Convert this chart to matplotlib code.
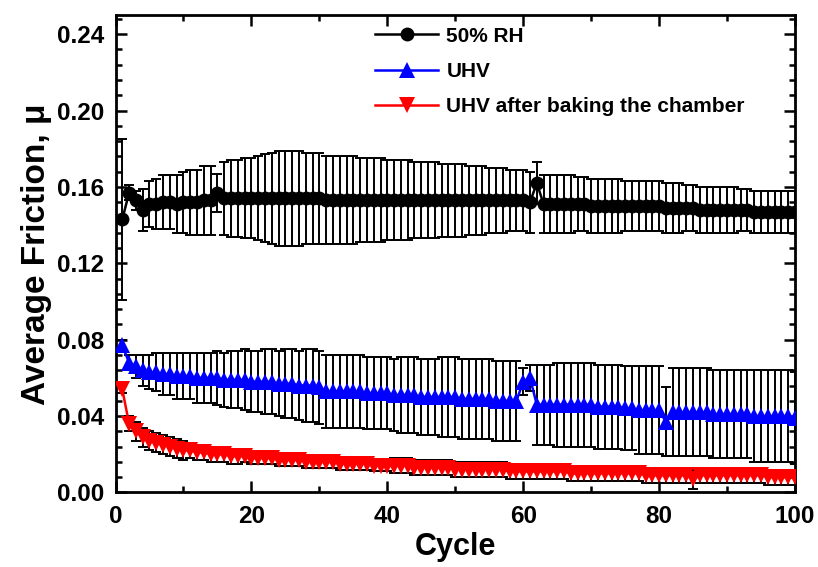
import numpy as np
import matplotlib
matplotlib.use("Agg")
import matplotlib.pyplot as plt
from matplotlib.ticker import MultipleLocator

plt.rcParams["font.family"] = ["Liberation Sans", "DejaVu Sans"]
plt.rcParams["font.weight"] = "bold"

# ─────────────────────────────────────────────
# DATA
# ─────────────────────────────────────────────
cycle = np.arange(1, 101)

rh50_mean = [
    0.143, 0.157, 0.153, 0.148, 0.151, 0.151, 0.152, 0.152, 0.151, 0.152,
    0.152, 0.152, 0.153, 0.153, 0.157, 0.154, 0.154, 0.154, 0.154, 0.154,
    0.154, 0.154, 0.154, 0.154, 0.154, 0.154, 0.154, 0.154, 0.154, 0.154,
    0.153, 0.153, 0.153, 0.153, 0.153, 0.153, 0.153, 0.153, 0.153, 0.153,
    0.153, 0.153, 0.153, 0.153, 0.153, 0.153, 0.153, 0.153, 0.153, 0.153,
    0.153, 0.153, 0.153, 0.153, 0.153, 0.153, 0.153, 0.153, 0.153, 0.153,
    0.152, 0.162, 0.151, 0.151, 0.151, 0.151, 0.151, 0.151, 0.151, 0.150,
    0.150, 0.150, 0.150, 0.150, 0.150, 0.150, 0.150, 0.150, 0.150, 0.150,
    0.149, 0.149, 0.149, 0.149, 0.149, 0.148, 0.148, 0.148, 0.148, 0.148,
    0.148, 0.148, 0.148, 0.147, 0.147, 0.147, 0.147, 0.147, 0.147, 0.147,
]
rh50_err = [
    0.042, 0.004, 0.005, 0.011, 0.012, 0.013, 0.014, 0.014, 0.015, 0.016,
    0.017, 0.017, 0.018, 0.018, 0.010, 0.019, 0.020, 0.020, 0.021, 0.021,
    0.022, 0.023, 0.024, 0.025, 0.025, 0.025, 0.025, 0.024, 0.024, 0.024,
    0.023, 0.023, 0.023, 0.023, 0.023, 0.022, 0.022, 0.022, 0.022, 0.021,
    0.021, 0.021, 0.021, 0.020, 0.020, 0.020, 0.020, 0.019, 0.019, 0.019,
    0.019, 0.018, 0.018, 0.018, 0.017, 0.017, 0.017, 0.016, 0.016, 0.016,
    0.016, 0.011, 0.015, 0.015, 0.015, 0.015, 0.015, 0.014, 0.014, 0.014,
    0.014, 0.014, 0.014, 0.014, 0.013, 0.013, 0.013, 0.013, 0.013, 0.013,
    0.013, 0.013, 0.013, 0.012, 0.012, 0.012, 0.012, 0.012, 0.012, 0.012,
    0.012, 0.011, 0.011, 0.011, 0.011, 0.011, 0.011, 0.011, 0.011, 0.011,
]

uhv_mean = [
    0.077, 0.068, 0.066, 0.064, 0.063, 0.063, 0.062, 0.062, 0.061, 0.061,
    0.061, 0.060, 0.060, 0.060, 0.060, 0.059, 0.059, 0.059, 0.059, 0.058,
    0.058, 0.058, 0.058, 0.057, 0.057, 0.057, 0.056, 0.056, 0.056, 0.055,
    0.053, 0.053, 0.053, 0.053, 0.053, 0.053, 0.052, 0.052, 0.052, 0.052,
    0.051, 0.051, 0.051, 0.051, 0.050, 0.050, 0.050, 0.050, 0.050, 0.050,
    0.049, 0.049, 0.049, 0.049, 0.049, 0.048, 0.048, 0.048, 0.048, 0.058,
    0.060, 0.046, 0.046, 0.046, 0.046, 0.046, 0.046, 0.046, 0.046, 0.046,
    0.045, 0.045, 0.045, 0.045, 0.044, 0.044, 0.043, 0.043, 0.043, 0.043,
    0.037, 0.042, 0.042, 0.042, 0.042, 0.042, 0.042, 0.041, 0.041, 0.041,
    0.041, 0.041, 0.041, 0.040, 0.040, 0.040, 0.040, 0.040, 0.040, 0.039,
]
uhv_err = [
    0.003, 0.004, 0.006, 0.008, 0.009, 0.010, 0.011, 0.011, 0.012, 0.012,
    0.012, 0.013, 0.013, 0.013, 0.014, 0.014, 0.015, 0.015, 0.016, 0.016,
    0.016, 0.017, 0.017, 0.017, 0.018, 0.018, 0.018, 0.019, 0.019, 0.019,
    0.019, 0.019, 0.019, 0.019, 0.019, 0.019, 0.019, 0.019, 0.019, 0.019,
    0.019, 0.020, 0.020, 0.020, 0.020, 0.020, 0.020, 0.021, 0.021, 0.021,
    0.021, 0.021, 0.021, 0.021, 0.021, 0.021, 0.021, 0.021, 0.021, 0.007,
    0.007, 0.021, 0.021, 0.021, 0.022, 0.022, 0.022, 0.022, 0.022, 0.022,
    0.022, 0.022, 0.022, 0.022, 0.022, 0.022, 0.023, 0.023, 0.023, 0.023,
    0.018, 0.023, 0.023, 0.023, 0.023, 0.023, 0.023, 0.023, 0.023, 0.023,
    0.023, 0.023, 0.023, 0.024, 0.024, 0.024, 0.024, 0.024, 0.024, 0.024,
]

baked_mean = [
    0.054, 0.036, 0.032, 0.029, 0.027, 0.026, 0.025, 0.024, 0.023, 0.022,
    0.022, 0.021, 0.021, 0.020, 0.020, 0.020, 0.019, 0.019, 0.019, 0.018,
    0.018, 0.018, 0.018, 0.017, 0.017, 0.017, 0.017, 0.016, 0.016, 0.016,
    0.016, 0.016, 0.015, 0.015, 0.015, 0.015, 0.015, 0.014, 0.014, 0.014,
    0.014, 0.014, 0.014, 0.013, 0.013, 0.013, 0.013, 0.013, 0.013, 0.012,
    0.012, 0.012, 0.012, 0.012, 0.012, 0.012, 0.012, 0.011, 0.011, 0.011,
    0.011, 0.011, 0.011, 0.011, 0.011, 0.011, 0.010, 0.010, 0.010, 0.010,
    0.010, 0.010, 0.010, 0.010, 0.010, 0.010, 0.010, 0.009, 0.009, 0.009,
    0.009, 0.009, 0.009, 0.009, 0.007, 0.009, 0.009, 0.009, 0.009, 0.009,
    0.009, 0.009, 0.009, 0.009, 0.009, 0.008, 0.008, 0.008, 0.008, 0.008,
]
baked_err = [
    0.002, 0.004, 0.005, 0.005, 0.005, 0.005, 0.005, 0.005, 0.005, 0.005,
    0.004, 0.004, 0.004, 0.004, 0.004, 0.004, 0.004, 0.004, 0.003, 0.003,
    0.003, 0.003, 0.003, 0.003, 0.003, 0.003, 0.003, 0.003, 0.003, 0.003,
    0.003, 0.003, 0.003, 0.003, 0.003, 0.003, 0.003, 0.003, 0.003, 0.003,
    0.004, 0.004, 0.004, 0.004, 0.004, 0.004, 0.004, 0.004, 0.004, 0.004,
    0.004, 0.004, 0.004, 0.004, 0.004, 0.004, 0.004, 0.004, 0.004, 0.004,
    0.004, 0.004, 0.004, 0.004, 0.004, 0.004, 0.004, 0.004, 0.004, 0.004,
    0.004, 0.004, 0.004, 0.004, 0.004, 0.004, 0.004, 0.004, 0.004, 0.004,
    0.004, 0.004, 0.004, 0.004, 0.005, 0.004, 0.004, 0.004, 0.004, 0.004,
    0.004, 0.004, 0.004, 0.004, 0.004, 0.004, 0.004, 0.004, 0.004, 0.004,
]

series = [
    ("50% RH", rh50_mean, rh50_err, "black", "o", 10),
    ("UHV", uhv_mean, uhv_err, "#0000ff", "^", 12),
    ("UHV after baking the chamber", baked_mean, baked_err, "#ff0000", "v", 12),
]

# ─────────────────────────────────────────────
# FIGURE
# ─────────────────────────────────────────────
fig = plt.figure(figsize=(8.18, 5.67), dpi=100)
ax = fig.add_axes([0.1412, 0.1314, 0.8307, 0.8421])

handles = []
for i, (label, mean, err, color, marker, ms) in enumerate(series):
    z = 2 + 2 * i
    ax.errorbar(cycle, mean, yerr=err, fmt="none", ecolor="black",
                elinewidth=1.4, capsize=3.5, capthick=1.4, zorder=z)
    h, = ax.plot(cycle, mean, color=color, marker=marker, markersize=ms,
                 linewidth=1.8, markeredgewidth=0, label=label, zorder=z + 1)
    handles.append(h)

ax.set_xlim(0, 100)
ax.set_ylim(0, 0.25)
ax.xaxis.set_major_locator(MultipleLocator(20))
ax.xaxis.set_minor_locator(MultipleLocator(10))
ax.yaxis.set_major_locator(MultipleLocator(0.04))
ax.yaxis.set_minor_locator(MultipleLocator(0.008))
ax.yaxis.set_major_formatter(plt.FormatStrFormatter("%.2f"))

ax.tick_params(which="both", direction="in", top=True, right=True, width=1.8)
ax.tick_params(which="major", length=8, labelsize=17.5, pad=8)
ax.tick_params(which="minor", length=4.5)
ax.tick_params(axis="x", which="major", pad=9)
for sp in ax.spines.values():
    sp.set_linewidth(2.0)

ax.set_xlabel("Cycle", fontsize=22, fontweight="bold", labelpad=3)
ax.set_ylabel("Average Friction, μ", fontsize=24, fontweight="bold", labelpad=4)

fig.legend(handles=handles, loc="upper left", bbox_to_anchor=(0.459, 0.953),
           frameon=False, handlelength=3.0, handletextpad=0.4,
           labelspacing=0.78, borderpad=0, borderaxespad=0,
           prop={"weight": "bold", "size": 15})

fig.savefig("out.png", dpi=100)
